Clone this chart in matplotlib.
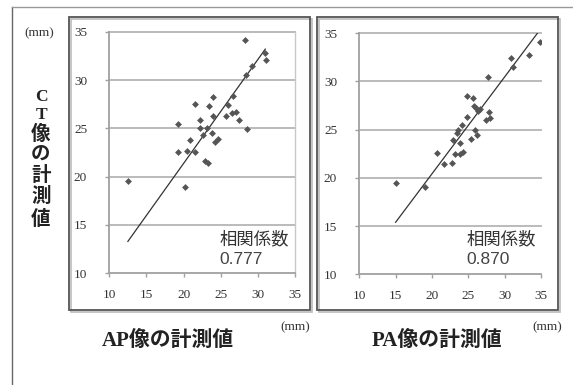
import matplotlib
matplotlib.use("Agg")
import matplotlib.pyplot as plt
from matplotlib.patches import Rectangle
from matplotlib.lines import Line2D

# ---- data ----
ap_x = [12.5, 19.3, 19.3, 20.2, 20.5, 20.8, 21.5, 21.5, 22.2, 22.2,
        22.65, 22.9, 23.2, 23.3, 23.46, 23.8, 23.9, 24.0, 24.2, 24.6,
        25.7, 26.5, 26.0, 26.7, 27.1, 27.46, 28.3, 28.4, 28.6, 29.2,
        31.0, 31.1]
ct_ap = [19.5, 25.4, 22.6, 18.9, 22.7, 23.8, 27.5, 22.6, 25.85, 25.0,
         24.3, 21.6, 25.0, 21.4, 27.3, 24.5, 26.3, 28.2, 23.6, 23.9,
         26.3, 26.6, 27.4, 28.3, 26.7, 25.85, 34.1, 30.5, 24.9, 31.4,
         32.8, 32.1]
pa_x = [15.0, 19.1, 20.75, 21.7, 22.7, 22.9, 23.2, 23.9, 24.25, 23.9,
        23.4, 23.6, 24.1, 25.3, 26.2, 25.9, 24.8, 24.8, 25.7, 25.8,
        26.3, 26.6, 27.9, 27.5, 28.0, 27.7, 30.9, 31.2, 33.4, 34.8,
        26.0]
ct_pa = [19.5, 19.1, 22.6, 21.4, 21.5, 23.9, 22.5, 22.5, 22.7, 23.6,
         24.7, 25.0, 25.5, 24.0, 24.45, 25.0, 26.3, 28.5, 28.3, 27.5,
         26.9, 27.1, 26.8, 26.0, 26.2, 30.5, 32.4, 31.5, 32.75, 34.1,
         27.3]
ap_trend_x = [12.5, 31.0]
ap_trend_y = [13.3, 33.2]
pa_trend_x = [15.0, 34.6]
pa_trend_y = [15.4, 35.1]
ticks = [10, 15, 20, 25, 30, 35]
corr_label = "相関係数"
corr_values = ["0.777", "0.870"]
x_titles = ["AP像の計測値", "PA像の計測値"]
y_title = "CT像の計測値"
unit = "(mm)"

W, H = 573, 385
fig = plt.figure(figsize=(W / 100, H / 100), dpi=100)
fig.patch.set_facecolor("white")

def fx(px):
    return px / W

def fy(py):
    return 1 - py / H

serif = ["Liberation Serif", "Noto Sans CJK JP"]
cjk = ["Noto Sans CJK JP", "DejaVu Sans"]

# outer frame lines
fig.add_artist(Line2D([fx(11.5), fx(11.5)], [fy(7), fy(385)], color="#666666", lw=1.0))
fig.add_artist(Line2D([fx(11.5), fx(573)], [fy(7), fy(7)], color="#999999", lw=1.0))

# panel boxes
for (x0, x1) in [(69, 310), (317, 558)]:
    fig.add_artist(Rectangle((fx(x0 + 1.5), fy(311.5)), fx(x1 - x0), fy(18.5) - fy(311.5),
                             fill=False, ec="#bbbbbb", lw=1.2))
    fig.add_artist(Rectangle((fx(x0), fy(310)), fx(x1 - x0), fy(17) - fy(310),
                             fill=False, ec="#555555", lw=1.3))

panels = [
    dict(rect=[fx(109.3), fy(273.3), fx(295) - fx(109.3), fy(31.7) - fy(273.3)],
         x=ap_x, y=ct_ap, tx=ap_trend_x, ty=ap_trend_y, right=True),
    dict(rect=[fx(359.3), fy(274.3), fx(541) - fx(359.3), fy(33.3) - fy(274.3)],
         x=pa_x, y=ct_pa, tx=pa_trend_x, ty=pa_trend_y, right=False),
]

for p in panels:
    ax = fig.add_axes(p["rect"])
    ax.set_xlim(10, 35)
    ax.set_ylim(10, 35)
    ax.set_xticks(ticks)
    ax.set_yticks(ticks)
    ax.set_xticklabels([str(t) for t in ticks], family=serif, fontsize=9.5, color="#333333")
    ax.set_yticklabels([str(t) for t in ticks], family=serif, fontsize=9.5, color="#333333")
    for t in ticks[1:]:
        ax.axhline(t, color="#b5b5b5", lw=1.3, zorder=1, clip_on=False)
    for s in ["left", "bottom"]:
        ax.spines[s].set_color("#a0a0a0")
        ax.spines[s].set_linewidth(1.3)
    ax.spines["top"].set_visible(False)
    if p["right"]:
        ax.spines["right"].set_color("#c8c8c8")
        ax.spines["right"].set_linewidth(1.0)
    else:
        ax.spines["right"].set_visible(False)
    ax.tick_params(direction="out", length=3, width=1, color="#a0a0a0")
    ax.tick_params(axis="y", pad=13)
    ax.tick_params(axis="x", pad=8)
    ax.plot(p["tx"], p["ty"], color="#333333", lw=0.9, zorder=3)
    ax.plot(p["x"], p["y"], linestyle="none", marker="D", markersize=3.5,
            color="#555555", markeredgewidth=0, zorder=4)
    ax.set_facecolor("none")

# correlation texts
for xl, val in zip([220, 467], corr_values):
    fig.text(fx(xl), fy(239), corr_label, family=cjk, fontsize=12.5,
             color="#333333", va="center", ha="left")
    fig.text(fx(xl - 1), fy(260), val, family=["Liberation Sans"], fontsize=12.5,
             color="#444444", va="center", ha="left")

# x titles
for xc, t in zip([168, 437], x_titles):
    fig.text(fx(xc), fy(341), t, family=serif, fontsize=15, fontweight="bold",
             color="#222222", ha="center", va="center")
for xc in [295, 547]:
    fig.text(fx(xc), fy(327), unit, family=serif, fontsize=9.5, color="#333333",
             ha="center", va="center")

# y title (vertical, stacked characters)
y_chars = list(y_title)
y_centers = [97, 115, 134, 155, 175, 196, 219]
y_sizes = [12.5, 12.5, 14, 14, 14, 14, 14]
for ch, yc, fs in zip(y_chars, y_centers, y_sizes):
    fig.text(fx(41), fy(yc), ch, family=serif, fontsize=fs, fontweight="bold",
             color="#222222", ha="center", va="center")
fig.text(fx(39), fy(33), unit, family=serif, fontsize=9.5, color="#333333",
         ha="center", va="center")

fig.savefig("out.png", dpi=100)
